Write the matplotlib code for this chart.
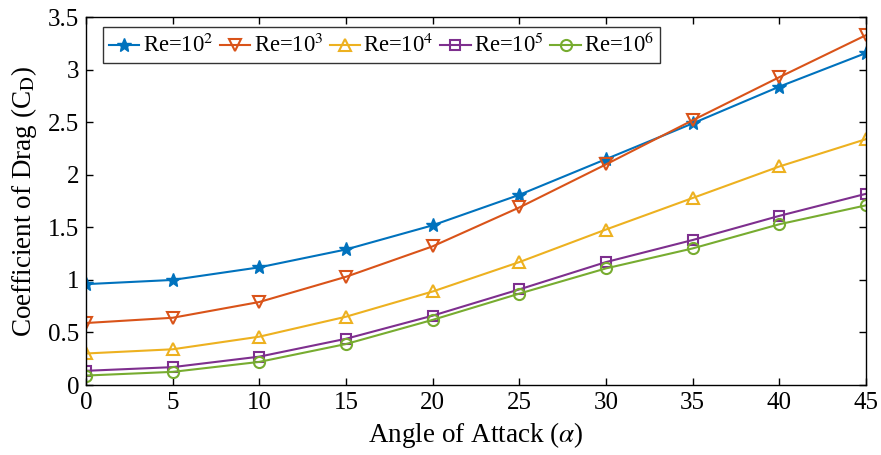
import matplotlib
matplotlib.use("Agg")
import matplotlib.pyplot as plt
from matplotlib.ticker import FuncFormatter

plt.rcParams['font.family'] = ['Liberation Serif', 'DejaVu Serif']
plt.rcParams['mathtext.fontset'] = 'stix'

angles = [0, 5, 10, 15, 20, 25, 30, 35, 40, 45]
cd_re1e2 = [0.96, 1.00, 1.12, 1.29, 1.52, 1.81, 2.15, 2.49, 2.84, 3.16]
cd_re1e3 = [0.59, 0.64, 0.79, 1.03, 1.32, 1.69, 2.10, 2.52, 2.93, 3.33]
cd_re1e4 = [0.30, 0.34, 0.46, 0.65, 0.89, 1.17, 1.48, 1.78, 2.08, 2.34]
cd_re1e5 = [0.135, 0.17, 0.27, 0.44, 0.66, 0.91, 1.17, 1.38, 1.61, 1.82]
cd_re1e6 = [0.09, 0.125, 0.22, 0.39, 0.62, 0.87, 1.11, 1.30, 1.53, 1.71]
labels = ['Re=10$^2$', 'Re=10$^3$', 'Re=10$^4$', 'Re=10$^5$', 'Re=10$^6$']

series = [cd_re1e2, cd_re1e3, cd_re1e4, cd_re1e5, cd_re1e6]
colors = ['#0072BD', '#D95319', '#EDB120', '#7E2F8E', '#77AC30']
markers = ['*', 'v', '^', 's', 'o']
msizes = [10, 8, 9, 7, 8]

fig = plt.figure(figsize=(8.81, 4.55), dpi=100)
ax = fig.add_axes([86/881, 70/455, 780/881, 367.7/455])

for y, c, m, ms, lab in zip(series, colors, markers, msizes, labels):
    if m == '*':
        ax.plot(angles, y, color=c, marker=m, markersize=ms, linewidth=1.5, label=lab)
    else:
        ax.plot(angles, y, color=c, marker=m, markersize=ms, markerfacecolor='none',
                markeredgewidth=1.5, linewidth=1.5, label=lab)

ax.set_xlim(0, 45)
ax.set_ylim(0, 3.5)
ax.set_xticks(range(0, 46, 5))
ax.set_yticks([0, 0.5, 1, 1.5, 2, 2.5, 3, 3.5])
ax.yaxis.set_major_formatter(FuncFormatter(lambda v, p: ('%g' % v)))
ax.tick_params(direction='in', top=True, right=True, labelsize=18, length=5, width=1, pad=5)
for s in ax.spines.values():
    s.set_linewidth(1)
ax.set_xlabel(r'Angle of Attack ($\alpha$)', fontsize=19.5, labelpad=4)
ax.set_ylabel(r'Coefficient of Drag (C$_{\mathrm{D}}$)', fontsize=19.5, labelpad=6)

leg = ax.legend(loc='upper left', ncol=5, fontsize=16.3, frameon=True, fancybox=False,
                edgecolor='black', handlelength=1.35, handletextpad=0.15, columnspacing=0.28,
                borderpad=0.25, borderaxespad=0.0, bbox_to_anchor=(0.022, 0.973))
leg.get_frame().set_linewidth(1)

fig.savefig('out.png', dpi=100)
